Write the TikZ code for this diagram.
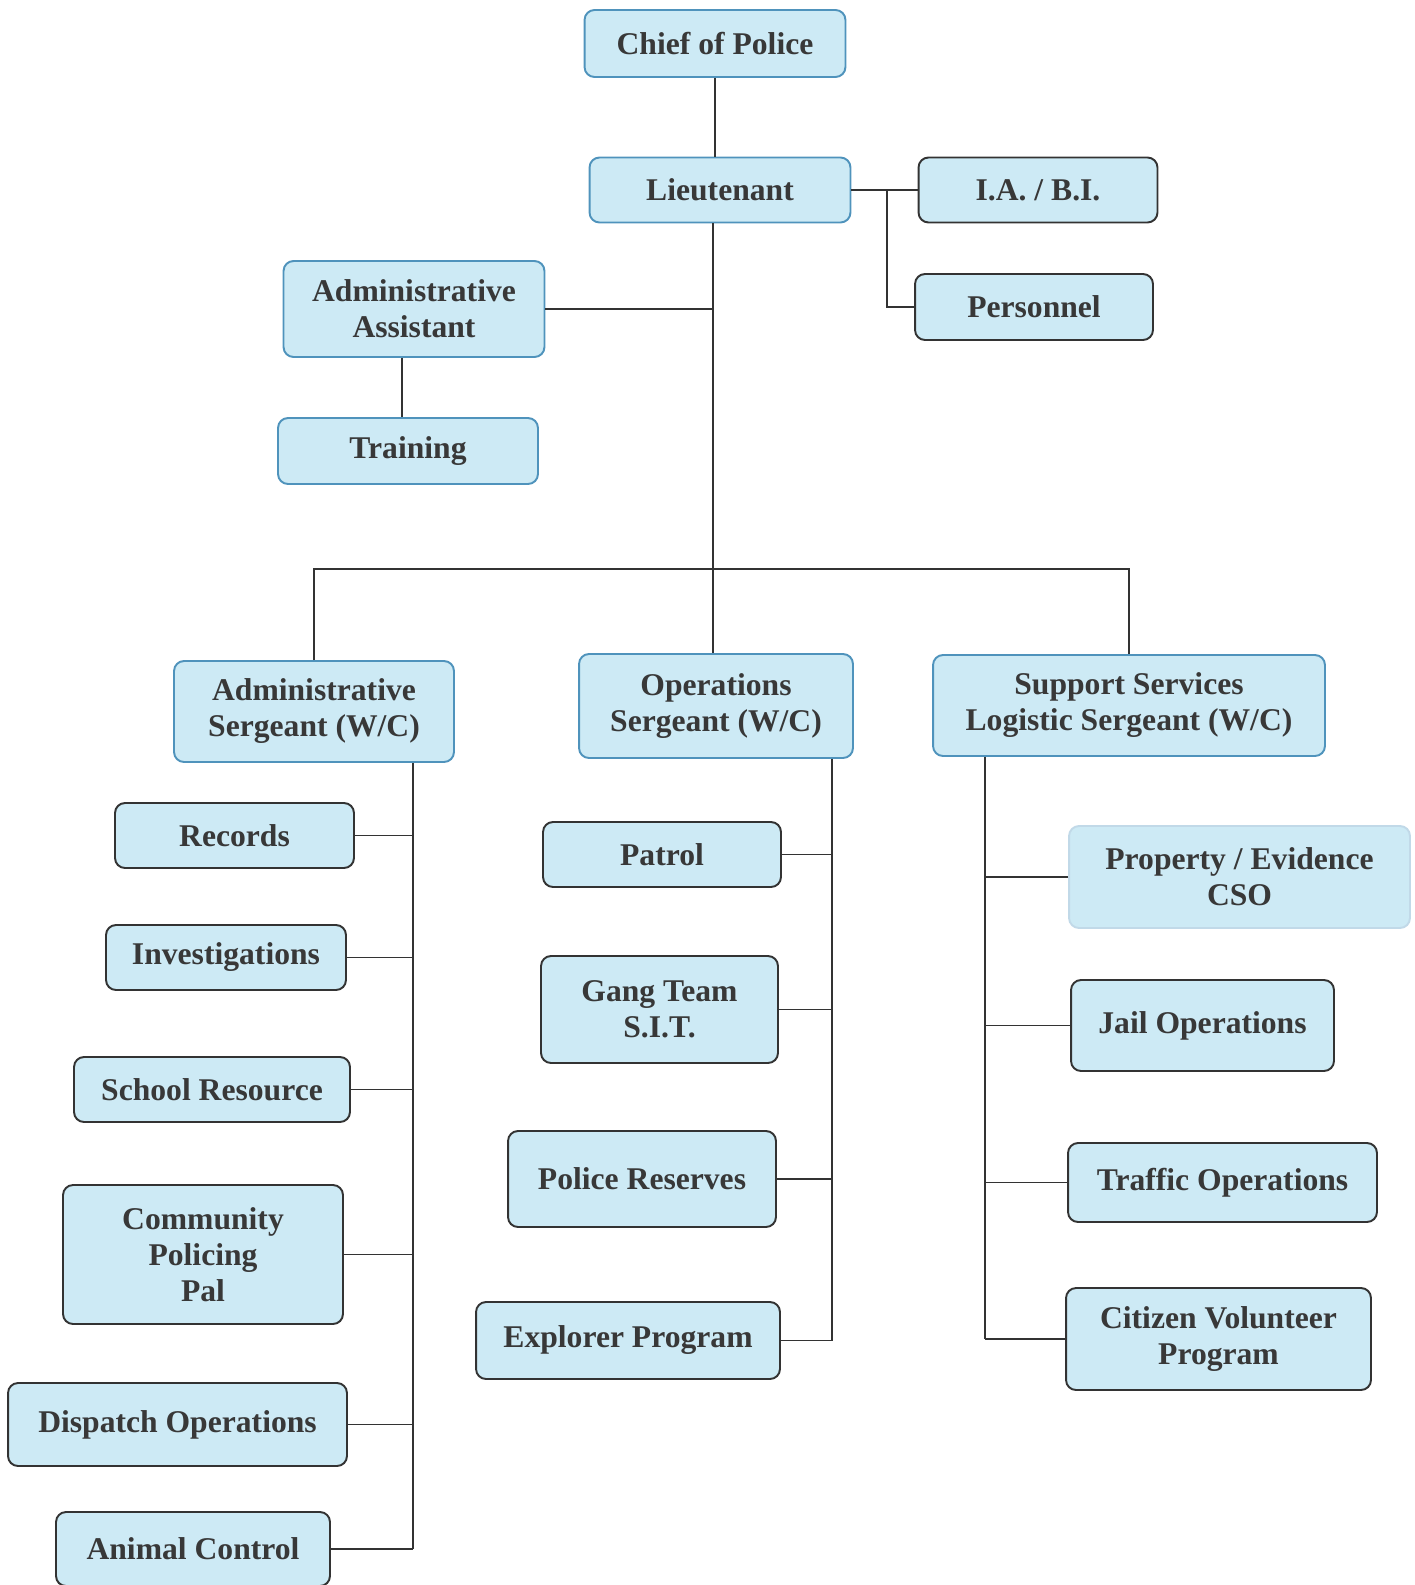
\documentclass[tikz,border=0pt]{standalone}
\usepackage{fontspec}
\setmainfont{Liberation Serif}
\definecolor{boxfill}{HTML}{CDEAF5}
\definecolor{boxblue}{HTML}{4F93BC}
\definecolor{boxgray}{HTML}{333333}
\definecolor{textgray}{HTML}{383838}
\tikzset{
  box/.style={rounded corners=0.2cm, fill=boxfill, line width=1.1pt, align=center,
    text=textgray, font=\fontsize{18}{20.5}\selectfont\bfseries, inner sep=0pt},
  bluebox/.style={box, draw=boxblue},
  graybox/.style={box, draw=boxgray},
  palebox/.style={box, draw=boxblue!35},
  link/.style={line width=0.7pt, draw=boxgray}
}
\begin{document}
\begin{tikzpicture}[x=0.02cm, y=-0.02cm]
  \useasboundingbox (0,0) rectangle (1414,1585);
  % top of the chart
  \node[bluebox, minimum width=5.22cm, minimum height=1.34cm] (chief) at (715,43.5) {Chief of Police};
  \node[bluebox, minimum width=5.22cm, minimum height=1.30cm] (lieut) at (720,190) {Lieutenant};
  \node[graybox, minimum width=4.78cm, minimum height=1.30cm] (iabi) at (1038,190) {I.A. / B.I.};
  \node[graybox, minimum width=4.76cm, minimum height=1.32cm] (personnel) at (1034,307) {Personnel};
  \node[bluebox, minimum width=5.22cm, minimum height=1.92cm] (adminasst) at (414,309) {Administrative\\Assistant};
  \node[bluebox, minimum width=5.20cm, minimum height=1.32cm] (training) at (408,451) {Training};
  % sergeants
  \node[bluebox, minimum width=5.60cm, minimum height=2.02cm] (adminsgt) at (314,711.5) {Administrative\\Sergeant (W/C)};
  \node[bluebox, minimum width=5.48cm, minimum height=2.08cm] (opssgt) at (716,706) {Operations\\Sergeant (W/C)};
  \node[bluebox, minimum width=7.84cm, minimum height=2.02cm] (supportsgt) at (1129,705.5) {Support Services\\Logistic Sergeant (W/C)};
  % administrative units
  \node[graybox, minimum width=4.78cm, minimum height=1.30cm] (records) at (234.5,835.5) {Records};
  \node[graybox, minimum width=4.80cm, minimum height=1.30cm] (invest) at (226,957.5) {Investigations};
  \node[graybox, minimum width=5.52cm, minimum height=1.30cm] (school) at (212,1089.5) {School Resource};
  \node[graybox, minimum width=5.60cm, minimum height=2.78cm] (community) at (203,1254.5) {Community\\Policing\\Pal};
  \node[graybox, minimum width=6.78cm, minimum height=1.66cm] (dispatch) at (177.5,1424.5) {Dispatch Operations};
  \node[graybox, minimum width=5.48cm, minimum height=1.48cm] (animal) at (193,1549) {Animal Control};
  % operations units
  \node[graybox, minimum width=4.76cm, minimum height=1.30cm] (patrol) at (662,854.5) {Patrol};
  \node[graybox, minimum width=4.74cm, minimum height=2.14cm] (gang) at (659.5,1009.5) {Gang Team\\S.I.T.};
  \node[graybox, minimum width=5.36cm, minimum height=1.92cm] (reserves) at (642,1179) {Police Reserves};
  \node[graybox, minimum width=6.08cm, minimum height=1.54cm] (explorer) at (628,1340.5) {Explorer Program};
  % support units
  \node[palebox, minimum width=6.82cm, minimum height=2.04cm] (property) at (1239.5,877) {Property / Evidence\\CSO};
  \node[graybox, minimum width=5.26cm, minimum height=1.82cm] (jail) at (1202.5,1025.5) {Jail Operations};
  \node[graybox, minimum width=6.18cm, minimum height=1.58cm] (traffic) at (1222.5,1182.5) {Traffic Operations};
  \node[graybox, minimum width=6.10cm, minimum height=2.04cm] (citizen) at (1218.5,1339) {Citizen Volunteer\\Program};
  % joints
  \coordinate (trunk) at (713,569);
  \coordinate (iajoint) at (887,190);
  \coordinate (trainjoint) at (402,0);
  \coordinate (adminspine) at (413,0);
  \coordinate (opsspine) at (832,0);
  \coordinate (supportspine) at (985,0);
  % connectors
  \draw[link] (chief.south) -- (chief.south |- lieut.north);
  \draw[link] (lieut.east) -- (iabi.west);
  \draw[link] (iajoint) |- (personnel.west);
  \draw[link] (lieut.south -| trunk) -- (opssgt.north -| trunk);
  \draw[link] (adminasst.east) -- (adminasst.east -| trunk);
  \draw[link] (adminasst.south -| trainjoint) -- (training.north -| trainjoint);
  \draw[link] (adminsgt.north) |- (trunk) -| (supportsgt.north);
  \draw[link] (adminsgt.south -| adminspine) -- (animal.east -| adminspine);
  \foreach \unit in {records, invest, school, community, dispatch, animal}
    \draw[link] (\unit.east) -- (\unit.east -| adminspine);
  \draw[link] (opssgt.south -| opsspine) -- (explorer.east -| opsspine);
  \foreach \unit in {patrol, gang, reserves, explorer}
    \draw[link] (\unit.east) -- (\unit.east -| opsspine);
  \draw[link] (supportsgt.south -| supportspine) -- (citizen.west -| supportspine);
  \foreach \unit in {property, jail, traffic, citizen}
    \draw[link] (\unit.west) -- (\unit.west -| supportspine);
\end{tikzpicture}
\end{document}
